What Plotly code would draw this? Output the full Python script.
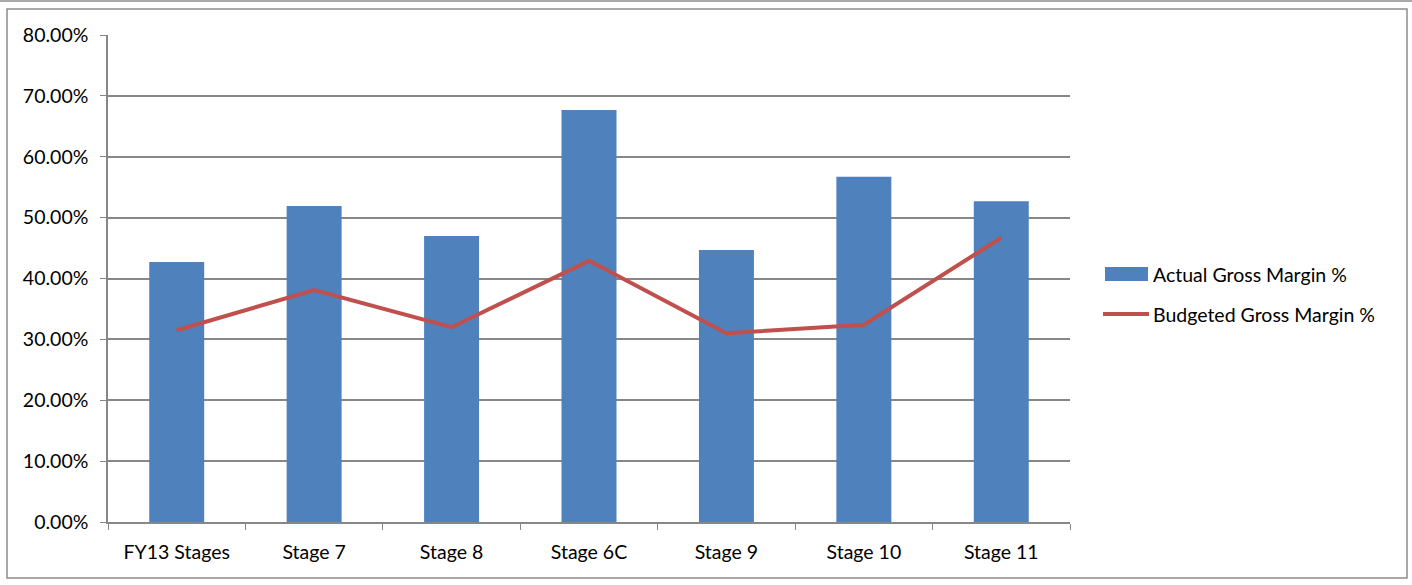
import plotly.graph_objects as go

categories = ["FY13 Stages", "Stage 7", "Stage 8", "Stage 6C", "Stage 9", "Stage 10", "Stage 11"]
actual = [0.427, 0.519, 0.470, 0.677, 0.447, 0.567, 0.527]
budgeted = [0.315, 0.381, 0.320, 0.429, 0.310, 0.324, 0.467]
y_ticks = [0, 0.1, 0.2, 0.3, 0.4, 0.5, 0.6, 0.7, 0.8]
series_names = ["Actual Gross Margin %", "Budgeted Gross Margin %"]
bar_color = "#4F81BD"
line_color = "#C0504D"

W, H = 1412, 585
L, R, T, B = 108, 1070, 35, 522
pw, ph = R - L, B - T

def px(x):
    return (x - L) / pw

def py(y):
    return (B - y) / ph

fig = go.Figure()
fig.add_trace(go.Bar(x=categories, y=actual, name=series_names[0],
                     marker=dict(color=bar_color, line=dict(width=0)), width=0.4))
fig.add_trace(go.Scatter(x=categories, y=budgeted, name=series_names[1],
                         mode="lines", line=dict(color=line_color, width=4)))

font = dict(family="Lato, Open Sans, sans-serif", size=19.5, color="#000000")
grid = "#878787"

fig.update_layout(
    width=W, height=H,
    margin=dict(l=L, r=W - R, t=T, b=H - B),
    paper_bgcolor="white", plot_bgcolor="white",
    font=font,
    showlegend=False,
    xaxis=dict(showline=True, linecolor=grid, linewidth=1.5, ticks="outside",
               tickson="boundaries", ticklen=6, tickcolor=grid, showgrid=False,
               tickfont=font, ticklabelstandoff=12),
    yaxis=dict(range=[0, 0.8], tickvals=y_ticks, tickformat=".2%", showline=True,
               linecolor=grid, linewidth=1.5, ticks="outside", ticklen=6, tickcolor=grid,
               gridcolor=grid, gridwidth=1.5, zeroline=False, tickfont=font,
               ticklabelstandoff=8),
)

# legend (drawn manually to match the wide legend keys)
fig.add_shape(type="rect", xref="paper", yref="paper",
              x0=px(1105), x1=px(1148), y0=py(281), y1=py(267),
              fillcolor=bar_color, line=dict(width=0))
fig.add_shape(type="line", xref="paper", yref="paper",
              x0=px(1103), x1=px(1149), y0=py(314), y1=py(314),
              line=dict(color=line_color, width=4))
fig.add_annotation(xref="paper", yref="paper", x=px(1151), y=py(274), text=series_names[0],
                   showarrow=False, xanchor="left", yanchor="middle", font=font)
fig.add_annotation(xref="paper", yref="paper", x=px(1151), y=py(314), text=series_names[1],
                   showarrow=False, xanchor="left", yanchor="middle", font=font)

# outer chart frame
fig.add_shape(type="rect", xref="paper", yref="paper",
              x0=px(7), x1=px(1407), y0=py(578), y1=py(9),
              line=dict(color="#8C8C8C", width=1.5), layer="below")
fig.add_shape(type="line", xref="paper", yref="paper",
              x0=px(0), x1=px(1412), y0=py(1), y1=py(1),
              line=dict(color="#8C8C8C", width=1.5))

fig.write_html("out.html")
